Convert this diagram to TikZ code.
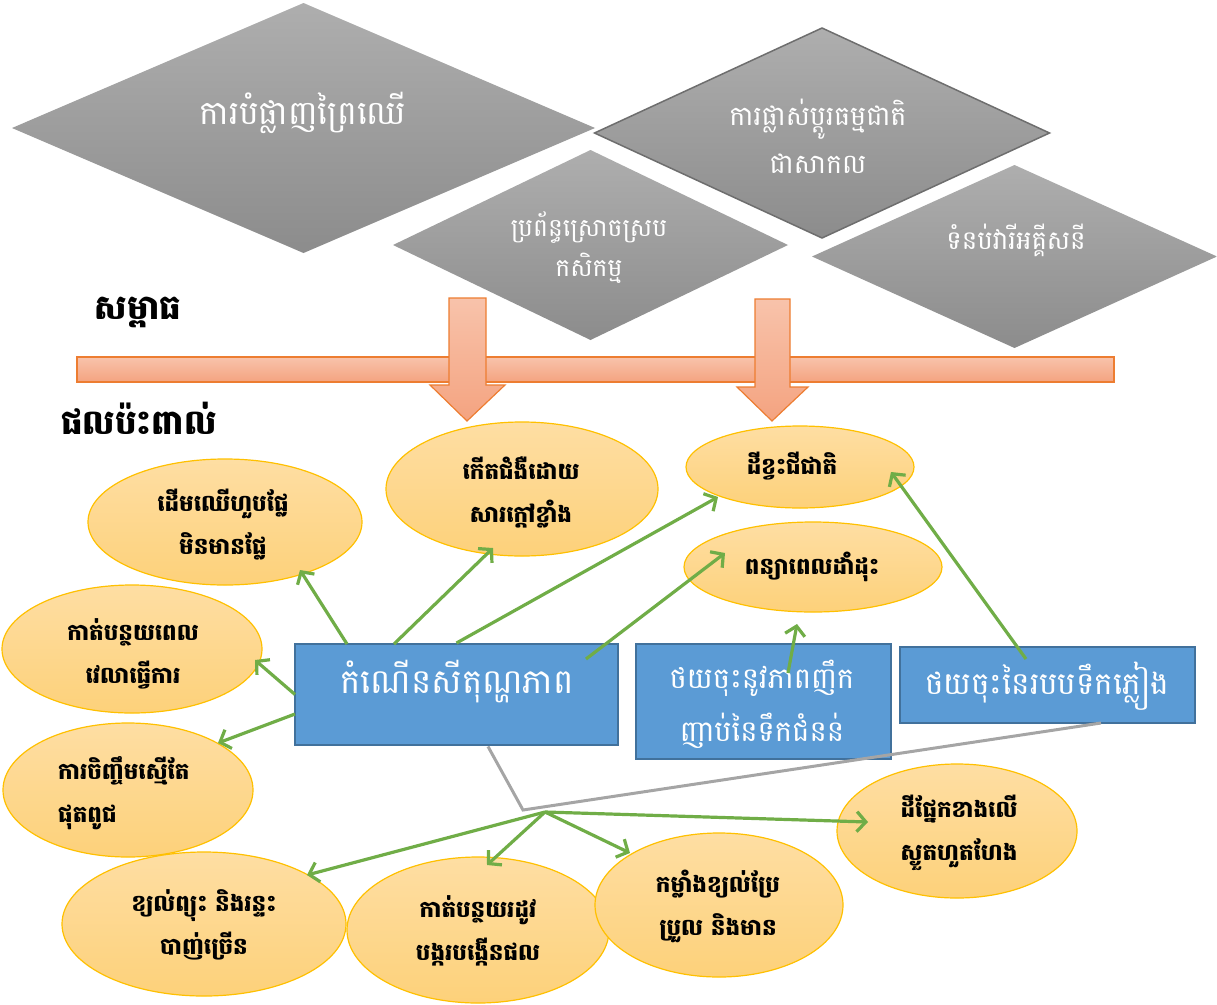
\documentclass[tikz,border=0pt]{standalone}
\usepackage{fontspec}
\newfontfamily\km[Script=Khmer]{Battambang}
\usetikzlibrary{shapes.geometric,arrows.meta,calc}
\definecolor{grayT}{HTML}{AEAEAE}
\definecolor{grayB}{HTML}{8C8C8C}
\definecolor{grayE}{HTML}{6E6E6E}
\definecolor{orT}{HTML}{F8C3AB}
\definecolor{orB}{HTML}{F4A380}
\definecolor{orE}{HTML}{ED7D31}
\definecolor{elT}{HTML}{FEDEA3}
\definecolor{elB}{HTML}{FDD17A}
\definecolor{elE}{HTML}{FFC000}
\definecolor{bxF}{HTML}{5B9BD5}
\definecolor{bxE}{HTML}{41719C}
\definecolor{grn}{HTML}{70AD47}
\definecolor{gln}{HTML}{A5A5A5}
\begin{document}
\begin{tikzpicture}[x=1pt,y=-1pt,
  dia/.style={diamond, top color=grayT, bottom color=grayB, inner sep=0pt, outer sep=0pt},
  ell/.style={ellipse, top color=elT, bottom color=elB, draw=elE, line width=1.2pt, inner sep=0pt},
  box/.style={rectangle, fill=bxF, draw=bxE, line width=2pt, inner sep=0pt, anchor=north west},
  dtext/.style={font=\km\fontsize{33}{48}\selectfont, text=white, align=center, inner sep=0pt},
  dstext/.style={font=\km\fontsize{27}{48}\selectfont, text=white, align=center, inner sep=0pt},
  etext/.style={font=\km\bfseries\fontsize{23}{43}\selectfont, text=black, align=center, inner sep=0pt},
  btext/.style={font=\km\fontsize{34}{53}\selectfont, text=white, align=center, inner sep=0pt},
  ltext/.style={font=\km\bfseries\fontsize{34}{40}\selectfont, text=black, inner sep=0pt},
  garrow/.style={draw=grn, line width=3.2pt, -{Straight Barb[length=9pt,width=20pt]}},
  gline/.style={draw=gln, line width=3pt},
  orarrow/.style={top color=orT, bottom color=orB, draw=orE, line width=1.2pt}
]
\useasboundingbox (0,0) rectangle (1217,1004);

% diamonds
\node[dia, minimum width=583, minimum height=250] (d1) at (303.5,128) {};
\node[dia, draw=grayE, line width=1.5pt, minimum width=455, minimum height=210] (d2) at (822,133) {};
\node[dia, minimum width=395, minimum height=190] (d3) at (590.5,245) {};
\node[dia, minimum width=405, minimum height=183] (d4) at (1014.5,256.5) {};
\node[dtext] (td1) at (303,113) {ការបំផ្លាញព្រៃឈើ};
\node[dstext] (td2) at (818,136) {ការផ្លាស់ប្តូរធម្មជាតិ\\ជាសាកល};
\node[dstext, font=\km\fontsize{25}{40}\selectfont] (td3) at (589,248) {ប្រព័ន្ធស្រោចស្រប\\កសិកម្ម};
\node[dstext, font=\km\fontsize{26}{40}\selectfont] (td4) at (1016,240) {ទំនប់វារីអគ្គីសនី};

% labels
\node[ltext] (lab1) at (138,312) {សម្ពាធ};
\node[ltext] (lab2) at (139,418) {ផលប៉ះពាល់};

% orange bar and arrows
\path[orarrow] (77,357) rectangle (1114,382);
\path[orarrow] (449,298) -- (486,298) -- (486,385) -- (505,385) -- (467,421) -- (430,385) -- (449,385) -- cycle;
\path[orarrow] (755,299) -- (790,299) -- (790,387) -- (808,387) -- (772,421) -- (737,387) -- (755,387) -- cycle;

% ellipses
\node[ell, minimum width=274, minimum height=126] (e1) at (225,522) {};
\node[ell, minimum width=272, minimum height=134] (e2) at (522,489) {};
\node[ell, minimum width=228, minimum height=82] (e3) at (800,467) {};
\node[ell, minimum width=258, minimum height=90] (e4) at (813,567) {};
\node[ell, minimum width=260, minimum height=128] (e5) at (132,649) {};
\node[ell, minimum width=250, minimum height=134] (e6) at (128,790) {};
\node[ell, minimum width=284, minimum height=144] (e7) at (204,924) {};
\node[ell, minimum width=262, minimum height=146] (e8) at (478,930) {};
\node[ell, minimum width=248, minimum height=144] (e9) at (719,905) {};
\node[ell, minimum width=240, minimum height=134] (e10) at (957,831) {};

\node[etext] (te1) at (223,525) {ដើមឈើហួបផ្លែ\\មិនមានផ្លែ};
\node[etext] (te2) at (521,492) {កើតជំងឺដោយ\\សារក្តៅខ្លាំង};
\node[etext] (te3) at (792,466) {ដីខ្វះជីជាតិ};
\node[etext] (te4) at (812,567) {ពន្យាពេលដាំដុះ};
\node[etext] (te5) at (133,654) {កាត់បន្ថយពេល\\វេលាធ្វើការ};
\node[etext, align=left, anchor=west] (te6) at (58,793) {ការចិញ្ចឹមស្មើតែ\\ផុតពូជ};
\node[etext] (te7) at (204,925) {ខ្យល់ព្យុះ និងរន្ទះ\\បាញ់ច្រើន};
\node[etext] (te8) at (478,931) {កាត់បន្ថយរដូវ\\បង្ករបង្កើនផល};
\node[etext] (te9) at (718,906) {កម្លាំងខ្យល់ប្រែ\\ប្រួល និងមាន};
\node[etext] (te10) at (959,833) {ដីផ្នែកខាងលើ\\ស្ងួតហួតហែង};

% blue boxes
\node[box, minimum width=323, minimum height=101] (b1) at (294,643) {};
\node[box, minimum width=255, minimum height=115] (b2) at (635,643) {};
\node[box, minimum width=295, minimum height=76] (b3) at (899,646) {};
\node[btext] (tb1) at (457,682) {កំណើនសីតុណ្ហភាព};
\node[btext, font=\km\fontsize{29}{53}\selectfont] (tb2) at (762,704) {ថយចុះនូវភាពញឹក\\ញាប់នៃទឹកជំនន់};
\node[btext, font=\km\fontsize{31}{53}\selectfont] (tb3) at (1047,686) {ថយចុះនៃរបបទឹកភ្លៀង};

% gray connector and junction
\coordinate (j) at (523,810);
\coordinate (g) at (545,812);
\draw[gline] ($(b1.center)+(31.5,52)$) -- (j) -- ($(b3.center)+(53.5,38)$);

% green arrows from b1
\draw[garrow] ($(b1.center)+(-109.5,-50.5)$) -- ($(e1.center)+(75,48)$);
\draw[garrow] ($(b1.center)+(-62.5,-50.5)$) -- ($(e2.center)+(-29,59)$);
\draw[garrow] (b1.north) -- ($(e3.center)+(-82,30)$);
\draw[garrow] ($(b1.center)+(129.5,-35.5)$) -- ($(e4.center)+(-88,-14)$);
\draw[garrow] ($(b1.center)+(-161.5,0)$) -- ($(e5.center)+(123,11)$);
\draw[garrow] ($(b1.center)+(-161.5,19.5)$) -- ($(e6.center)+(90,-47)$);
% from b2, b3
\draw[garrow] ($(b2.center)+(24.5,-28.5)$) -- ($(e4.center)+(-16,57)$);
\draw[garrow] ($(b3.center)+(-21.5,-26)$) -- ($(e3.center)+(91,5)$);
% from junction
\draw[garrow] (g) -- ($(e7.center)+(103,-49)$);
\draw[garrow] (g) -- ($(e8.center)+(9,-65)$);
\draw[garrow] (g) -- ($(e9.center)+(-89,-52)$);
\draw[garrow] (g) -- ($(e10.center)+(-89,-9)$);
\end{tikzpicture}
\end{document}
